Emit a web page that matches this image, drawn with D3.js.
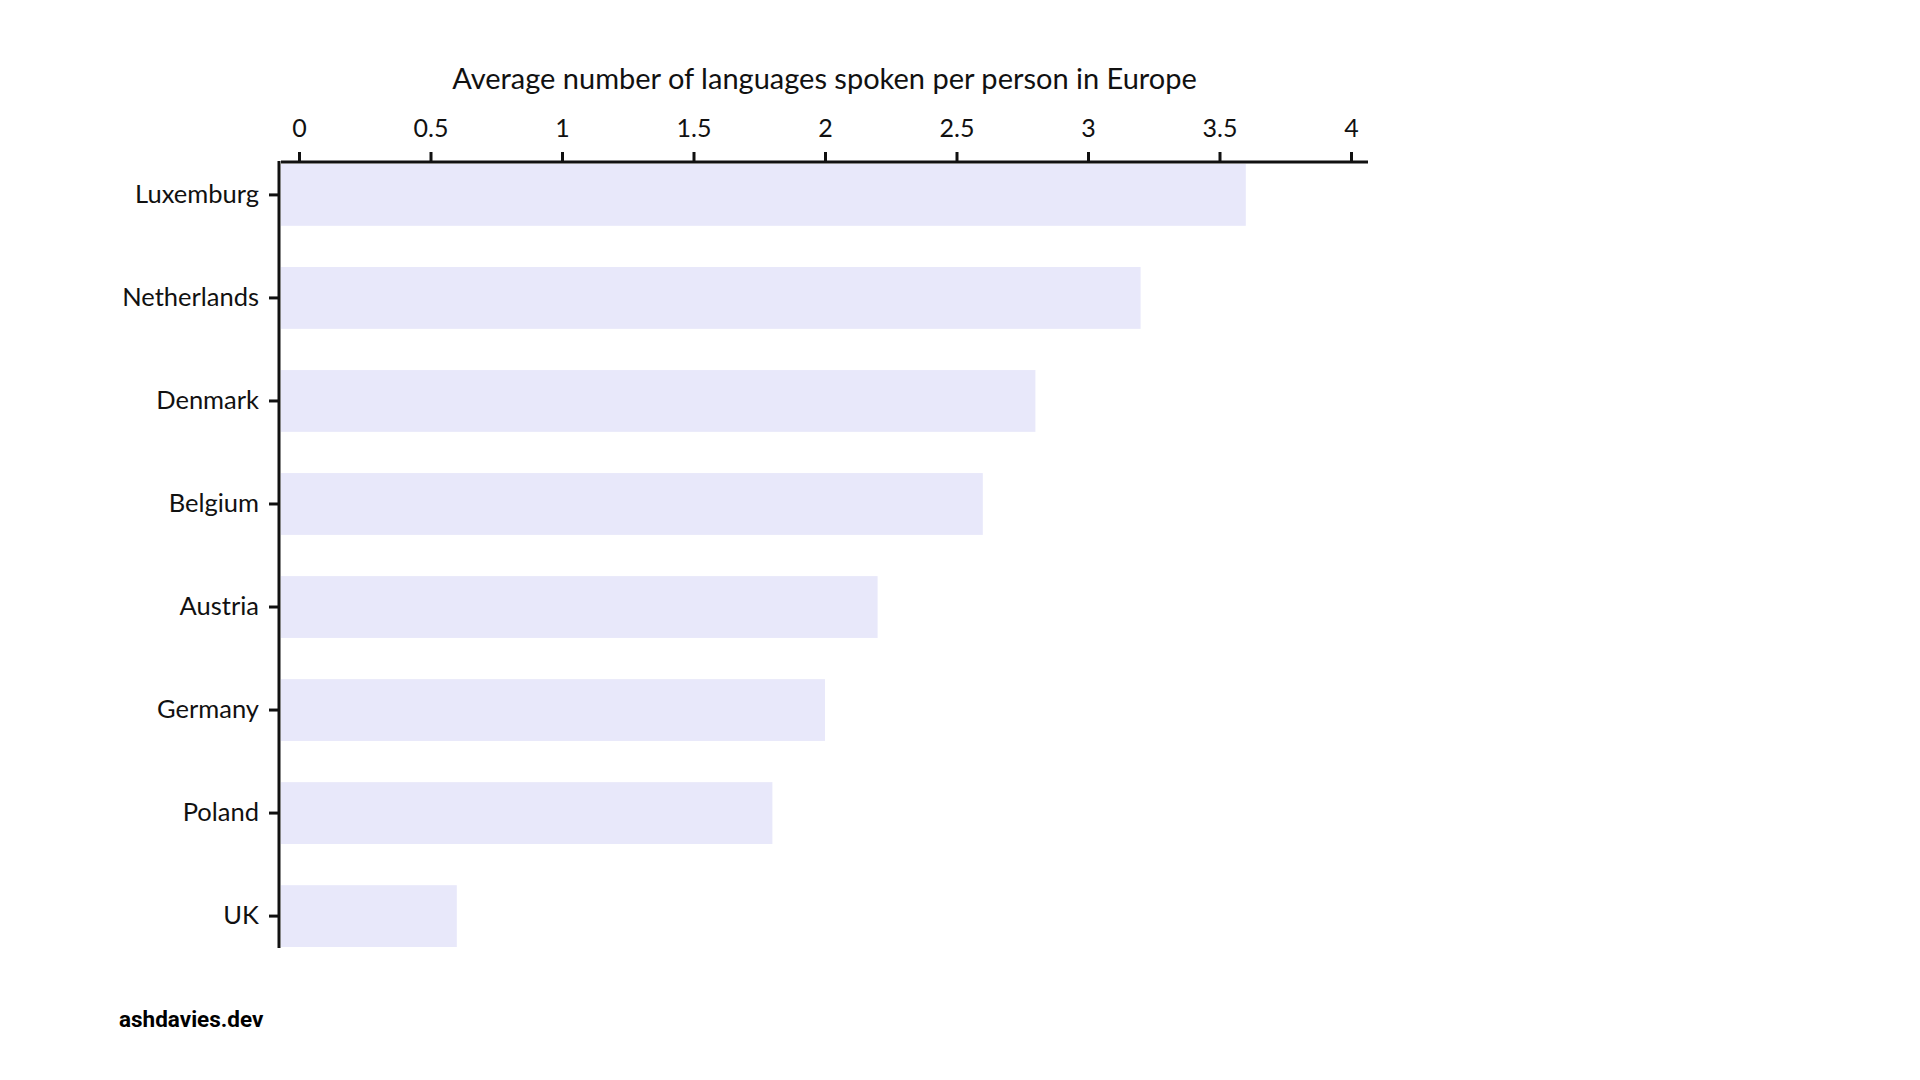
<!DOCTYPE html>
<html>
<head>
<meta charset="utf-8">
<script src="https://cdn.jsdelivr.net/npm/d3@7"></script>
<style>
  html, body { margin: 0; padding: 0; background: #ffffff; }
  svg { display: block; }
</style>
</head>
<body>
<svg id="chart" width="1920" height="1080"></svg>
<script>
const countries = ["Luxemburg", "Netherlands", "Denmark", "Belgium", "Austria", "Germany", "Poland", "UK"];
const languages = [3.6, 3.2, 2.8, 2.6, 2.2, 2.0, 1.8, 0.6];
const xTicks = [0, 0.5, 1, 1.5, 2, 2.5, 3, 3.5, 4];
const titleText = "Average number of languages spoken per person in Europe";
const creditText = "ashdavies.dev";

const data = countries.map((c, i) => ({ country: c, value: languages[i] }));

const svg = d3.select("#chart");
const font = "Lato, 'Open Sans', sans-serif";

const axisX0 = 279;     // y-axis line position
const x = d3.scaleLinear().domain([0, 4]).range([299, 1351]);
const y = d3.scaleBand().domain(countries).range([164, 947]).paddingInner(0.4).paddingOuter(0);

// bars
svg.append("g").selectAll("rect")
  .data(data)
  .join("rect")
  .attr("x", axisX0 + 2)
  .attr("y", d => y(d.country))
  .attr("width", d => x(d.value) - (axisX0 + 2))
  .attr("height", y.bandwidth())
  .attr("fill", "#e8e8fa");

// x axis (top)
const xAxis = svg.append("g")
  .attr("transform", "translate(0,162)")
  .call(d3.axisTop(x).tickValues(xTicks).tickFormat(d3.format("")).tickSizeInner(10).tickSizeOuter(0).tickPadding(15));
xAxis.select(".domain").remove();
xAxis.append("line")
  .attr("x1", 281).attr("x2", 1368).attr("y1", 0).attr("y2", 0)
  .attr("stroke", "#111").attr("stroke-width", 3);
xAxis.selectAll(".tick line").attr("stroke", "#111").attr("stroke-width", 3);
xAxis.selectAll(".tick text")
  .attr("fill", "#111")
  .style("font-family", font)
  .style("font-size", "25px");

// y axis (left)
const yAxis = svg.append("g")
  .attr("transform", `translate(${axisX0},0)`)
  .call(d3.axisLeft(y).tickSizeInner(10).tickSizeOuter(0).tickPadding(10));
yAxis.select(".domain").remove();
yAxis.append("line")
  .attr("x1", 0).attr("x2", 0).attr("y1", 161).attr("y2", 948)
  .attr("stroke", "#111").attr("stroke-width", 3);
yAxis.selectAll(".tick line").attr("stroke", "#111").attr("stroke-width", 3);
yAxis.selectAll(".tick text")
  .attr("fill", "#111")
  .style("font-family", font)
  .style("font-size", "25.5px");

// title
svg.append("text")
  .attr("x", (281 + 1368) / 2)
  .attr("y", 89)
  .attr("text-anchor", "middle")
  .attr("fill", "#111")
  .style("font-family", font)
  .style("font-size", "29px")
  .text(titleText);

// credit
svg.append("text")
  .attr("x", 119)
  .attr("y", 1027)
  .attr("fill", "#000")
  .style("font-family", "Roboto, sans-serif")
  .style("font-weight", "700")
  .style("font-size", "22.5px")
  .text(creditText);
</script>
</body>
</html>
